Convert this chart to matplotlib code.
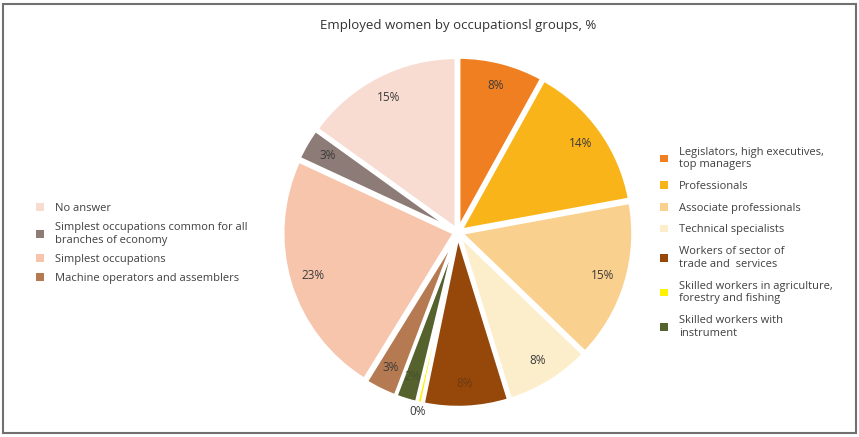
import matplotlib.pyplot as plt
from matplotlib.patches import Rectangle
import numpy as np

plt.rcParams['font.family'] = ['Open Sans', 'DejaVu Sans']

# slices, clockwise from the top
categories = [
    "Legislators, high executives,\ntop managers",
    "Professionals",
    "Associate professionals",
    "Technical specialists",
    "Workers of sector of\ntrade and  services",
    "Skilled workers in agriculture,\nforestry and fishing",
    "Skilled workers with\ninstrument",
    "Machine operators and assemblers",
    "Simplest occupations",
    "Simplest occupations common for all\nbranches of economy",
    "No answer",
]
values = [8, 14, 15, 8, 8, 0.5, 2, 3, 23, 3, 15]
pct_labels = ["8%", "14%", "15%", "8%", "8%", "0%", "2%", "3%", "23%", "3%", "15%"]
colors = ["#F07F22", "#F9B41A", "#FAD08F", "#FCEECB", "#96480A", "#FFF200",
          "#56622E", "#B57A52", "#F7C4AC", "#8C7B76", "#F8DCD2"]

fig = plt.figure(figsize=(8.59, 4.37), dpi=100)
ax = fig.add_axes([0.312, 0.036, 0.442, 0.865])

wedges, _ = ax.pie(values, colors=colors, startangle=90, counterclock=False,
                   explode=[0.02] * len(values),
                   wedgeprops=dict(edgecolor="white", linewidth=2.5))
ax.set_xlim(-1.1, 1.1)
ax.set_ylim(-1.1, 1.1)
ax.set_aspect("equal")

for i, w in enumerate(wedges):
    ang = np.deg2rad((w.theta1 + w.theta2) / 2)
    r = 0.88
    col = "#3a3a3a"
    if i == 5:
        r = 1.07
    if i == 4:
        col = "#6e3a10"
    if i == 6:
        col = "#46502a"
    ax.text(r * np.cos(ang), r * np.sin(ang), pct_labels[i], ha="center", va="center",
            fontsize=8.5, color=col)

fig.text(0.533, 0.942, "Employed women by occupationsl groups, %", ha="center", va="center",
         fontsize=9.5, color="#333333")

right = fig.legend(wedges[:7], categories[:7], loc="center left",
                   bbox_to_anchor=(0.757, 0.445), frameon=False, fontsize=8,
                   handlelength=0.7, handleheight=0.7, handletextpad=1.0,
                   labelspacing=0.97, labelcolor="#404040")
for h in right.legend_handles:
    h.set_edgecolor("none")

left_idx = [10, 9, 8, 7]
left = fig.legend([wedges[i] for i in left_idx], [categories[i] for i in left_idx],
                  loc="center left", bbox_to_anchor=(0.03, 0.443), frameon=False,
                  fontsize=8, handlelength=0.7, handleheight=0.7, handletextpad=1.0,
                  labelspacing=0.75, labelcolor="#404040")
for h in left.legend_handles:
    h.set_edgecolor("none")

fig.patches.append(Rectangle((0.004, 0.01), 0.992, 0.98, transform=fig.transFigure,
                             fill=False, edgecolor="#707070", linewidth=1.5))

fig.savefig("out.png", dpi=100)
